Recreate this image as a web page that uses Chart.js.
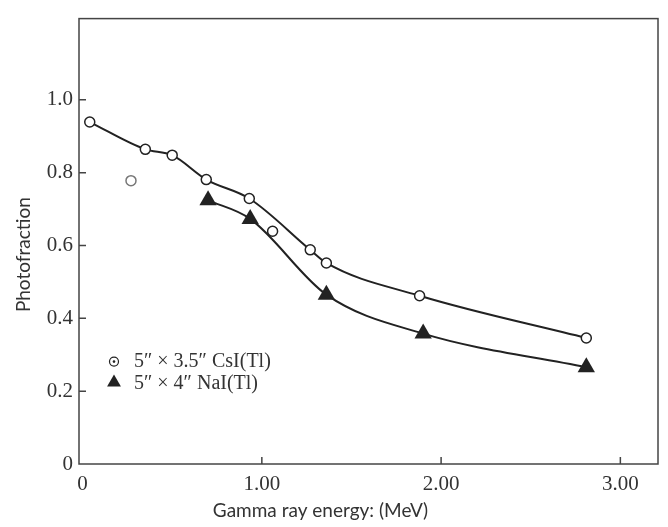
<!DOCTYPE html>
<html>
<head>
<meta charset="utf-8">
<script src="https://cdn.jsdelivr.net/npm/chart.js@4.4.1/dist/chart.umd.min.js"></script>
<style>
  body { margin: 0; background: #fff; }
  canvas { display: block; }
</style>
</head>
<body>
<canvas id="grafico" width="668" height="527"></canvas>
<script>
// dados
var csiEnergy   = [0.04, 0.35, 0.50, 0.69, 0.93, 1.27, 1.36, 1.88, 2.81];
var csiFraction = [0.939, 0.864, 0.848, 0.781, 0.729, 0.588, 0.552, 0.462, 0.346];

var naiEnergy   = [0.70, 0.935, 1.36, 1.90, 2.81];
var naiFraction = [0.724, 0.673, 0.465, 0.358, 0.266];

// pontos soltos (fora da curva)
var extraEnergy   = [0.27, 1.06];
var extraFraction = [0.778, 0.639];

var xTickValues = [0, 1, 2, 3];
var xTickLabels = ["0", "1.00", "2.00", "3.00"];
var yTickValues = [0, 0.2, 0.4, 0.6, 0.8, 1.0];
var yTickLabels = ["0", "0.2", "0.4", "0.6", "0.8", "1.0"];

var legendLabels = ["5\u2033 \u00d7 3.5\u2033 CsI(Tl)", "5\u2033 \u00d7 4\u2033 NaI(Tl)"];
var xTitle = "Gamma ray energy: (MeV)";
var yTitle = "Photofraction";

function pares(xs, ys) {
  var out = [];
  for (var i = 0; i < xs.length; i++) out.push({ x: xs[i], y: ys[i] });
  return out;
}

var ink = "#222";
var serif = "'Liberation Serif', 'DejaVu Serif', serif";
var sans = "Lato, 'Noto Sans', sans-serif";

/* moldura, marcas internas, titulos e legenda */
var extras = {
  id: "extras",
  afterDraw: function (chart) {
    var ctx = chart.ctx;
    var a = chart.chartArea;
    var sx = chart.scales.x, sy = chart.scales.y;
    ctx.save();
    ctx.strokeStyle = "#444";
    ctx.lineWidth = 1.5;
    ctx.strokeRect(a.left, a.top, a.right - a.left, a.bottom - a.top);

    ctx.beginPath();
    for (var i = 1; i < xTickValues.length; i++) {
      var px = sx.getPixelForValue(xTickValues[i]);
      ctx.moveTo(px, a.bottom);
      ctx.lineTo(px, a.bottom - 7);
    }
    for (var j = 1; j < yTickValues.length; j++) {
      var py = sy.getPixelForValue(yTickValues[j]);
      ctx.moveTo(a.left, py);
      ctx.lineTo(a.left + 7, py);
    }
    ctx.stroke();

    // titulos dos eixos
    ctx.fillStyle = "#333";
    ctx.font = "19px " + sans;
    ctx.textAlign = "center";
    ctx.textBaseline = "middle";
    ctx.fillText(xTitle, a.left + (a.right - a.left) * 0.417, 511);
    ctx.save();
    ctx.translate(24, a.top + (a.bottom - a.top) * 0.53);
    ctx.rotate(-Math.PI / 2);
    ctx.fillText(yTitle, 0, 0);
    ctx.restore();

    // legenda
    var lx = a.left + 35, ly = a.top + 343;
    ctx.strokeStyle = ink;
    ctx.fillStyle = "#fff";
    ctx.lineWidth = 1.2;
    ctx.beginPath();
    ctx.arc(lx, ly, 4.5, 0, Math.PI * 2);
    ctx.fill();
    ctx.stroke();
    ctx.fillStyle = ink;
    ctx.beginPath();
    ctx.arc(lx, ly, 1.3, 0, Math.PI * 2);
    ctx.fill();

    var ty = ly + 21, r = 8;
    ctx.beginPath();
    ctx.moveTo(lx, ty - r);
    ctx.lineTo(lx + r * 0.866, ty + r / 2);
    ctx.lineTo(lx - r * 0.866, ty + r / 2);
    ctx.closePath();
    ctx.fill();

    ctx.font = "20px " + serif;
    ctx.textAlign = "left";
    ctx.fillStyle = "#333";
    ctx.fillText(legendLabels[0], lx + 20, ly);
    ctx.fillText(legendLabels[1], lx + 20, ty + 1);
    ctx.restore();
  }
};

var grafico = document.getElementById("grafico").getContext("2d");

var chart = new Chart(grafico, {
  type: "scatter",
  data: {
    datasets: [{
      label: legendLabels[0],
      data: pares(csiEnergy, csiFraction),
      showLine: true,
      cubicInterpolationMode: "monotone",
      borderColor: ink,
      borderWidth: 2,
      pointStyle: "circle",
      pointRadius: 5,
      pointBackgroundColor: "#fff",
      pointBorderColor: ink,
      pointBorderWidth: 1.5,
      order: 1
    }, {
      label: legendLabels[1],
      data: pares(naiEnergy, naiFraction),
      showLine: true,
      cubicInterpolationMode: "monotone",
      borderColor: ink,
      borderWidth: 2,
      pointStyle: "triangle",
      pointRadius: 10,
      pointBackgroundColor: ink,
      pointBorderColor: ink,
      pointBorderWidth: 0,
      order: 2
    }, {
      label: "extra",
      data: pares(extraEnergy, extraFraction),
      showLine: false,
      pointStyle: "circle",
      pointRadius: 5,
      pointBackgroundColor: "#fff",
      pointBorderColor: ["#777", ink],
      pointBorderWidth: 1.5
    }]
  },
  options: {
    responsive: false,
    animation: false,
    devicePixelRatio: 1,
    layout: { padding: { top: 9, right: 9, left: 0, bottom: 0 } },
    plugins: {
      legend: { display: false },
      tooltip: { enabled: false }
    },
    scales: {
      x: {
        type: "linear",
        min: -0.02,
        max: 3.21,
        grid: { display: false, drawTicks: false },
        border: { display: false },
        afterBuildTicks: function (scale) {
          scale.ticks = xTickValues.map(function (v) { return { value: v }; });
        },
        afterFit: function (scale) { scale.height = 63; },
        ticks: {
          padding: 8,
          color: "#333",
          font: { family: serif, size: 21 },
          callback: function (v, i) { return xTickLabels[i]; }
        }
      },
      y: {
        min: 0,
        max: 1.223,
        grid: { display: false, drawTicks: false },
        border: { display: false },
        afterBuildTicks: function (scale) {
          scale.ticks = yTickValues.map(function (v) { return { value: v }; });
        },
        afterFit: function (scale) { scale.width = 79; },
        title: { display: false },
        ticks: {
          padding: 6,
          color: "#333",
          font: { family: serif, size: 21 },
          callback: function (v, i) { return yTickLabels[i]; }
        }
      }
    }
  },
  plugins: [extras]
});
</script>
</body>
</html>
